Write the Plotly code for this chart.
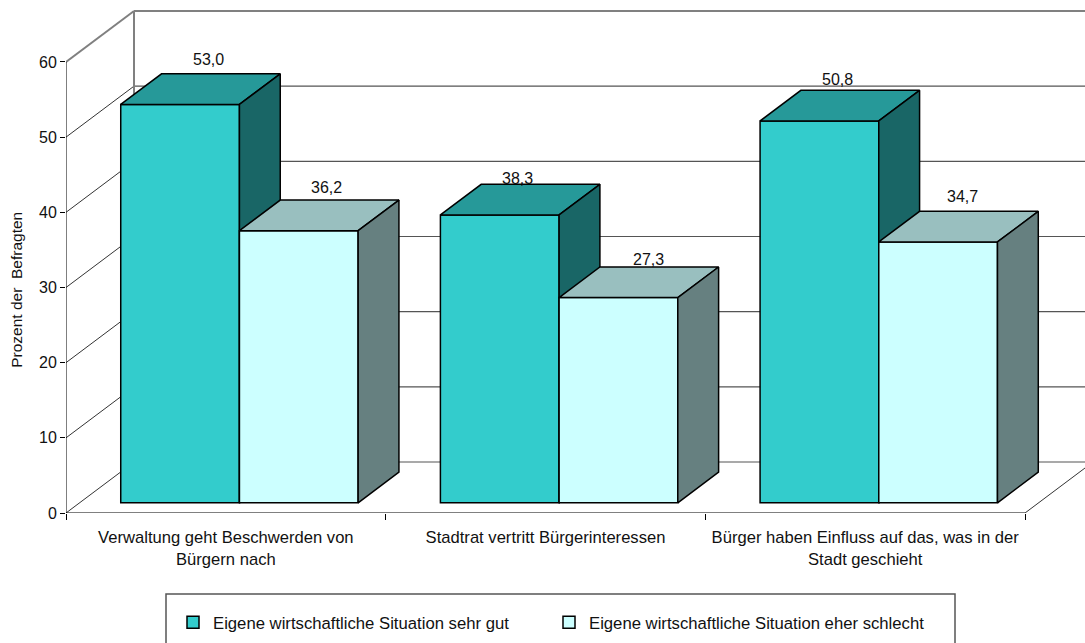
import plotly.graph_objects as go

categories = ["Verwaltung geht Beschwerden von<br>Bürgern nach",
              "Stadtrat vertritt Bürgerinteressen",
              "Bürger haben Einfluss auf das, was in der<br>Stadt geschieht"]
series_names = ["Eigene wirtschaftliche Situation sehr gut",
                "Eigene wirtschaftliche Situation eher schlecht"]
good = [53.0, 38.3, 50.8]
bad = [36.2, 27.3, 34.7]
y_ticks = [0, 10, 20, 30, 40, 50, 60]

# pixel scales of the plot
PX_CAT = 319.67
PX_VAL = 7.517
DX = 68 / PX_CAT      # full depth, in category units
DY = 51 / PX_VAL      # full depth, in value units
BAR_W = 118.7 / PX_CAT
FRONT = 0.2           # depth where bars start
DEPTH = 0.6           # bar depth

colors = [dict(front="#33CCCC", top="#269999", side="#196666"),
          dict(front="#CCFFFF", top="#99BFBF", side="#668080")]
label_shift = [[(28, 45), (18, 36), (18, 41)], [(28, 43), (30, 38), (24, 45)]]
axes_of_series = [("x", "y"), ("x2", "y2")]

fig = go.Figure()
x_left = -0.5
x_right = x_left + (1085 - 66) / PX_CAT
x_end = x_left + 3
y_top = 513 / PX_VAL

# walls as shapes beneath the marks
shapes = []
def wall(x0, y0, x1, y1, color="#333333", width=1):
    shapes.append(dict(type="line", layer="below", xref="x", yref="y", x0=x0, y0=y0, x1=x1, y1=y1,
                       line=dict(color=color, width=width)))
for v in y_ticks:
    top = v == y_ticks[-1]
    c = "#808080" if top else "#333333"
    w = 2 if top else 1
    wall(x_left, v, x_left + DX, v + DY, c, w)
    wall(x_left + DX, v + DY, x_right, v + DY, c if top else "#555555", 2 if top else 1.2)
wall(x_left + DX, DY, x_left + DX, y_ticks[-1] + DY, "#808080", 2)
wall(x_end, 0, x_end + DX, DY)
# legend frame, open at the bottom of the page
shapes.append(dict(type="rect", layer="below", xref="paper", yref="paper",
                   x0=100 / 1019, x1=889 / 1019, y0=-200 / 513, y1=-81 / 513,
                   line=dict(color="#555555", width=1.5), fillcolor="white"))

ox = FRONT * DX
oy = FRONT * DY
ddx = DEPTH * DX
ddy = DEPTH * DY
annotations = []
for s, values in enumerate([good, bad]):
    xa, ya = axes_of_series[s]
    xc = [i + ox + (s - 0.5) * BAR_W for i in range(len(values))]
    fig.add_trace(go.Bar(x=xc, y=values, base=oy, width=BAR_W, name=series_names[s], xaxis=xa, yaxis=ya,
                         marker=dict(color=colors[s]["front"], line=dict(color="black", width=1.5)),
                         hoverinfo="skip"))
    for i, v in enumerate(values):
        l = xc[i] - BAR_W / 2
        r = xc[i] + BAR_W / 2
        t = v + oy
        fig.add_trace(go.Scatter(x=[l, l + ddx, r + ddx, r, l], y=[t, t + ddy, t + ddy, t, t], xaxis=xa, yaxis=ya,
                                 mode="lines", fill="toself", fillcolor=colors[s]["top"],
                                 line=dict(color="black", width=1.5), showlegend=False, hoverinfo="skip"))
        fig.add_trace(go.Scatter(x=[r, r + ddx, r + ddx, r, r], y=[oy, oy + ddy, t + ddy, t, oy], xaxis=xa, yaxis=ya,
                                 mode="lines", fill="toself", fillcolor=colors[s]["side"],
                                 line=dict(color="black", width=1.5), showlegend=False, hoverinfo="skip"))
        sx, sy = label_shift[s][i]
        annotations.append(dict(x=xc[i], y=t, xref="x", yref="y", text=f"{v:.1f}".replace(".", ","),
                                showarrow=False, xshift=sx, yshift=sy, xanchor="center", yanchor="middle",
                                font=dict(size=16, color="#111111")))

# axis lines
fig.add_trace(go.Scatter(x=[x_left, x_left], y=[0, y_ticks[-1]], mode="lines", cliponaxis=False,
                         line=dict(color="black", width=1), showlegend=False, hoverinfo="skip"))
fig.add_trace(go.Scatter(x=[x_left, x_end], y=[0, 0], mode="lines", cliponaxis=False,
                         line=dict(color="black", width=1), showlegend=False, hoverinfo="skip"))

annotations.append(dict(x=-49 / 1019, y=29.7, xref="paper", yref="y", text="Prozent der\u00a0 Befragten",
                        textangle=-90, showarrow=False, xanchor="center", yanchor="middle",
                        font=dict(size=15.5, color="#111111")))

fig.update_layout(
    width=1085, height=643, margin=dict(l=66, r=0, t=0, b=130),
    paper_bgcolor="white", plot_bgcolor="white", barmode="overlay",
    font=dict(family="Liberation Sans, Arial, sans-serif", size=16, color="#111111"),
    shapes=shapes, annotations=annotations, showlegend=True,
    legend=dict(orientation="h", xref="paper", yref="paper", x=107 / 1019, y=-92 / 513,
                xanchor="left", yanchor="top", bgcolor="rgba(0,0,0,0)", borderwidth=0,
                entrywidth=331, entrywidthmode="pixels",
                font=dict(size=16.7), itemclick=False, itemdoubleclick=False),
    xaxis=dict(range=[x_left, x_right], tickmode="array", tickvals=[0, 1, 2], ticktext=categories,
               ticks="outside", ticklen=9, tickcolor="rgba(0,0,0,0)", showgrid=False, zeroline=False,
               showline=False, tickfont=dict(size=16.6),
               minor=dict(tickmode="array", tickvals=[-0.5, 0.5, 1.5, 2.5], ticks="outside", ticklen=6,
                          tickcolor="black", tickwidth=1, showgrid=False)),
    yaxis=dict(range=[0, y_top], tickmode="array", tickvals=y_ticks, ticks="outside", ticklen=5,
               tickcolor="black", tickwidth=1, showgrid=False, zeroline=False, showline=False,
               tickfont=dict(size=16)),
    xaxis2=dict(range=[x_left, x_right], overlaying="x", visible=False),
    yaxis2=dict(range=[0, y_top], overlaying="y", visible=False),
)
fig.write_html("out.html", config=dict(displayModeBar=False),
               post_script="document.body.style.margin='0';document.body.style.overflow='hidden';")
